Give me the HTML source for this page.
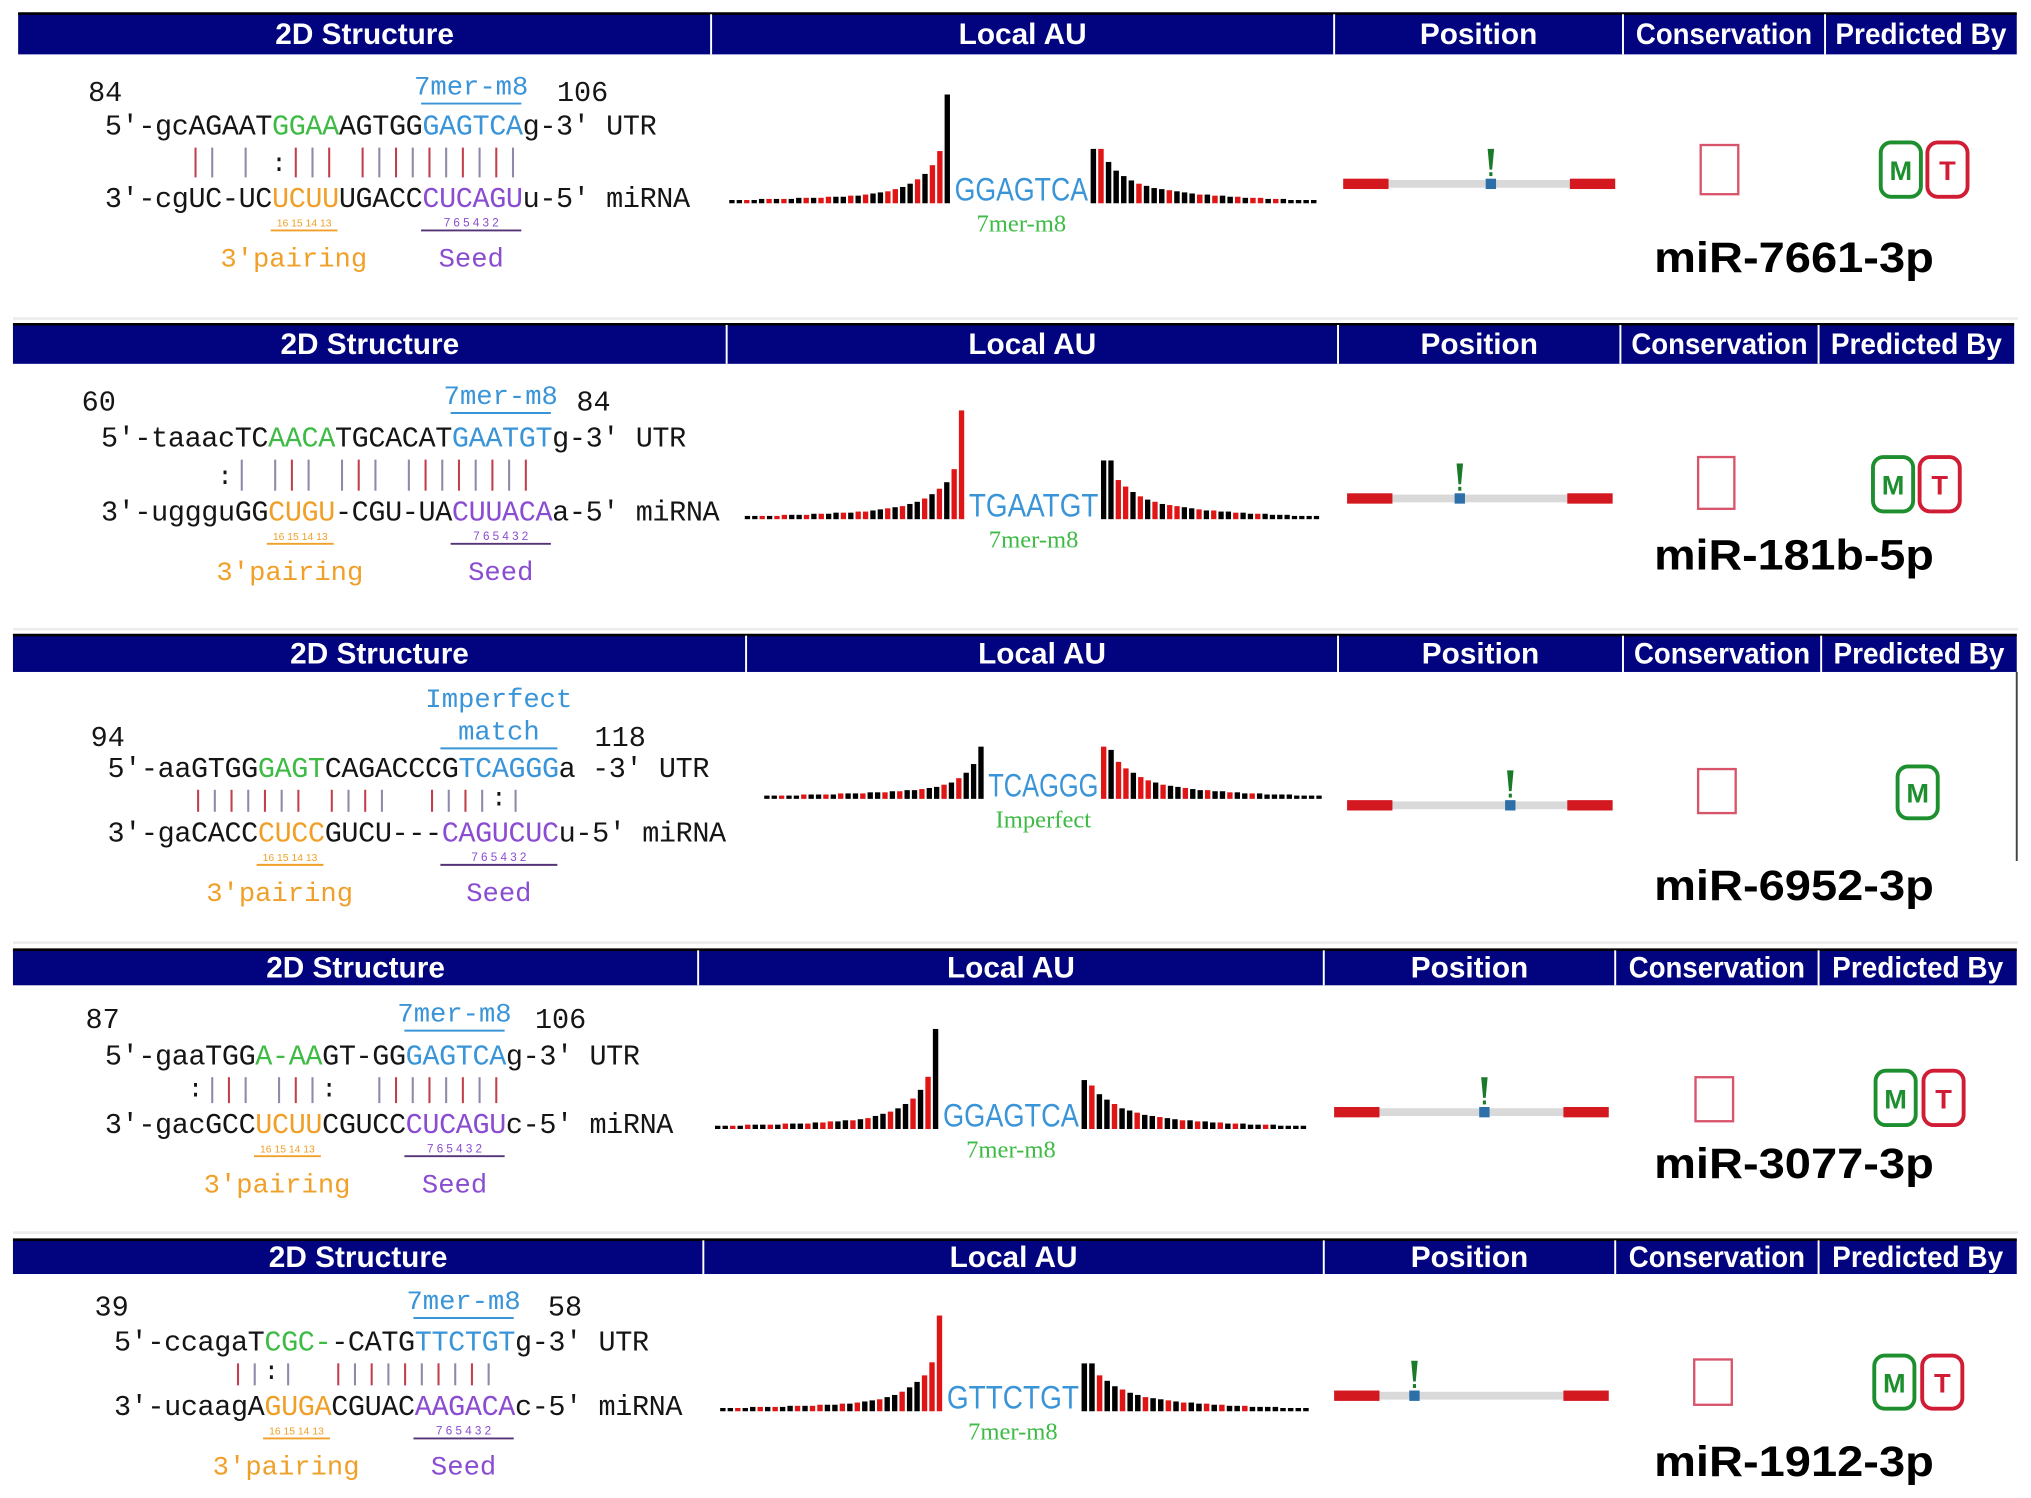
<!DOCTYPE html>
<html><head><meta charset="utf-8"><style>
html,body{margin:0;padding:0;background:#fff;}
svg{display:block;}
</style></head><body>
<svg id="fig" xmlns="http://www.w3.org/2000/svg" width="2031" height="1498" viewBox="0 0 1568 1157" preserveAspectRatio="none">
<rect x="0" y="0" width="1568" height="1157" fill="#fff"/>
</svg>
<script>
// ---- data arrays (Local AU scores, 0-100) ----
const au1Left=[3,3,3,3,4,4,4,4,4,5,5,5,5,6,6,6,7,7,8,9,10,11,13,15,18,22,27,35,48,100];
const au1Right=[50,50,38,30,25,21,18,16,14,13,12,11,10,9,8,8,7,7,6,6,5,5,5,4,4,4,3,3,3,3];
const au1LeftCol="kkrkkrkrkkrkrrkkrkrkkrrkkrkrrk";
const au1RightCol="krkkkkrkkkrkkkrkrkkrkrrkrkkkkk";
const au2Left=[3,3,3,3,3,4,4,4,4,5,5,5,6,6,6,7,7,8,9,10,11,12,14,16,19,23,28,34,46,100];
const au2Right=[54,54,36,30,25,21,18,16,14,13,12,11,10,9,8,8,7,7,6,6,5,5,5,4,4,4,3,3,3,3];
const au2LeftCol="kkrkrrkkrkrkkrkrrkkrkrkkrkrkrr";
const au2RightCol="kkrrkrkrkrrkkrkrkkrkkrkkkkkkkk";
const au3Left=[3,3,3,3,3,4,4,4,4,4,5,5,5,5,6,6,6,7,7,8,8,9,10,11,13,15,19,24,32,48];
const au3Right=[48,45,34,28,24,20,17,15,13,12,11,10,9,8,8,7,7,6,6,5,5,5,4,4,4,4,3,3,3,3];
const au3LeftCol="kkrkkrkkrkrkkrkkrkrkkrkkrkrkkk";
const au3RightCol="rkrrkrrkrkkrkkrkkrkkrkkkkkkkkk";
const au4Left=[3,3,3,3,4,4,4,4,4,5,5,5,5,6,6,7,7,8,8,9,10,12,14,16,19,23,28,36,48,92];
const au4Right=[45,40,32,27,23,19,17,15,13,12,11,10,9,8,8,7,7,6,6,5,5,5,4,4,4,4,3,3,3,3];
const au4LeftCol="kkrkrkkrkrkkrkrrkkrkrkkrkkrkrk";
const au4RightCol="krkkrkkrkkrkkrkrkkrkrkkkrkkkkk";
const au5Left=[3,3,3,3,4,4,4,4,4,5,5,5,5,6,6,6,7,7,8,9,10,11,13,15,18,22,27,33,45,88];
const au5Right=[44,44,33,28,23,20,17,15,13,12,11,10,9,8,8,7,7,6,6,5,5,5,4,4,4,4,3,3,3,3];
const au5LeftCol="kkrkkrkrkkrkrrkkrkrkkrkkrkkrrr";
const au5RightCol="kkrkkrkkrkkrkrkkrkrkkrkkkkkkkk";

const headerLabels=["2D Structure","Local AU","Position","Conservation","Predicted By"];
const C={g:"#3dbb45",b:"#3a94d8",o:"#f0a028",p:"#8a4cd0",k:"#151515"};

const panels=[
 {hy:10,hh:32,div:[14,549,1030,1253,1409,1557],x0:80,utrY:104,miY:160,nL:"84",nLx:68,nR:"106",nRx:430,numY:78,
  utr:[["5'-gcAGAAT","k"],["GGAA","g"],["AGTGG","k"],["GAGTCA","b"],["g-3' UTR","k"]],
  mi:[["3'-cgUC-UC","k"],["UCUU","o"],["UGACC","k"],["CUCAGU","p"],["u-5' miRNA","k"]],
  pairs:"     || | :||| ||||||||||",oS:10,pS:19,pL:6,motifLab:["7mer-m8"],
  cx0:563,cx1:1018,t0:737,t1:840,cb:157,mtxt:"GGAGTCA",sub:"7mer-m8",py:142,px0:1037,px1:1247,pb:1151,
  cons:[1313,112,29,38],m:[1452,110],t:[1488,110],bh:42,name:"miR-7661-3p",nameY:210,
  L:au1Left,R:au1Right,LC:au1LeftCol,RC:au1RightCol},
 {hy:250,hh:31,div:[10,561,1033,1251,1404,1555],x0:77,utrY:345,miY:402,nL:"60",nLx:63,nR:"84",nRx:445,numY:317,
  utr:[["5'-taaacTC","k"],["AACA","g"],["TGCACAT","k"],["GAATGT","b"],["g-3' UTR","k"]],
  mi:[["3'-uggguGG","k"],["CUGU","o"],["-CGU-UA","k"],["CUUACA","p"],["a-5' miRNA","k"]],
  pairs:"       :| ||| ||| ||||||||",oS:10,pS:21,pL:6,motifLab:["7mer-m8"],
  cx0:575,cx1:1020,t0:748,t1:848,cb:401,mtxt:"TGAATGT",sub:"7mer-m8",py:385,px0:1040,px1:1245,pb:1127,
  cons:[1311,353,28,40],m:[1446,353],t:[1482,353],bh:42,name:"miR-181b-5p",nameY:440,
  L:au2Left,R:au2Right,LC:au2LeftCol,RC:au2RightCol},
 {hy:490,hh:29,div:[10,576,1033,1253,1406,1557],x0:82,utrY:600,miY:650,nL:"94",nLx:70,nR:"118",nRx:459,numY:576,
  utr:[["5'-aaGTGG","k"],["GAGT","g"],["CAGACCCG","k"],["TCAGGG","b"],["a -3' UTR","k"]],
  mi:[["3'-gaCACC","k"],["CUCC","o"],["GUCU---","k"],["CAGUCUC","p"],["u-5' miRNA","k"]],
  pairs:"     ||||||| ||||  ||||:|",oS:9,pS:20,pL:7,motifLab:["Imperfect","match"],
  cx0:590,cx1:1022,t0:763,t1:848,cb:617,mtxt:"TCAGGG",sub:"Imperfect",py:622,px0:1040,px1:1245,pb:1166,
  cons:[1311,594,29,34],m:[1465,592],t:null,bh:40,name:"miR-6952-3p",nameY:695,
  L:au3Left,R:au3Right,LC:au3LeftCol,RC:au3RightCol},
 {hy:733,hh:28,div:[10,539,1022,1247,1404,1557],x0:80,utrY:822,miY:875,nL:"87",nLx:66,nR:"106",nRx:413,numY:794,
  utr:[["5'-gaaTGG","k"],["A-AA","g"],["GT-GG","k"],["GAGTCA","b"],["g-3' UTR","k"]],
  mi:[["3'-gacGCC","k"],["UCUU","o"],["CGUCC","k"],["CUCAGU","p"],["c-5' miRNA","k"]],
  pairs:"     :||| |||:  ||||||||",oS:9,pS:18,pL:6,motifLab:["7mer-m8"],
  cx0:552,cx1:1010,t0:728,t1:833,cb:872,mtxt:"GGAGTCA",sub:"7mer-m8",py:859,px0:1030,px1:1242,pb:1146,
  cons:[1309,832,29,34],m:[1448,827],t:[1485,827],bh:42,name:"miR-3077-3p",nameY:910,
  L:au4Left,R:au4Right,LC:au4LeftCol,RC:au4RightCol},
 {hy:957,hh:27,div:[10,543,1022,1247,1404,1557],x0:87,utrY:1043,miY:1093,nL:"39",nLx:73,nR:"58",nRx:423,numY:1016,
  utr:[["5'-ccagaT","k"],["CGC-","g"],["-CATG","k"],["TTCTGT","b"],["g-3' UTR","k"]],
  mi:[["3'-ucaagA","k"],["GUGA","o"],["CGUAC","k"],["AAGACA","p"],["c-5' miRNA","k"]],
  pairs:"       ||:|  ||||||||||",oS:9,pS:18,pL:6,motifLab:["7mer-m8"],
  cx0:556,cx1:1012,t0:731,t1:833,cb:1090,mtxt:"GTTCTGT",sub:"7mer-m8",py:1078,px0:1030,px1:1242,pb:1092,
  cons:[1308,1050,29,35],m:[1447,1047],t:[1484,1047],bh:41,name:"miR-1912-3p",nameY:1140,
  L:au5Left,R:au5Right,LC:au5LeftCol,RC:au5RightCol}
];

const svg=document.getElementById('fig');
const NS="http://www.w3.org/2000/svg";
function mk(tag,attrs,name,parent){
  const el=document.createElementNS(NS,tag);
  for(const k in attrs) el.setAttribute(k,attrs[k]);
  
  
  (parent||svg).appendChild(el);
  return el;
}
const CW=12.9;
const MONO='"Liberation Mono", monospace';
const SANS='"Liberation Sans", Arial, sans-serif';
const SERIF='"Liberation Serif", serif';
function auY(v){return v*0.84;}

function seqLine(p,segs,y,name){
  let full="";segs.forEach(s=>full+=s[0]);
  const xs=[];for(let i=0;i<full.length;i++)xs.push((p.x0+i*CW+1).toFixed(1));
  const t=mk('text',{x:xs.join(' '),y:y,'font-family':MONO,'font-size':22,fill:C.k},name);
  segs.forEach(s=>{const ts=mk('tspan',{fill:C[s[1]]},name+'-segment',t);ts.textContent=s[0];});
}

panels.forEach((p,pi)=>{
  const g=mk('g',{},'target-panel-'+(pi+1));
  mk('rect',{x:p.div[0],y:p.hy,width:p.div[5]-p.div[0],height:p.hh,fill:'#02037e'},'header-bar',g);
  mk('line',{x1:p.div[0],x2:p.div[5],y1:p.hy+0.5,y2:p.hy+0.5,stroke:'#000',"stroke-width":2},'header-top-edge',g);
  for(let i=0;i<5;i++){
    if(i>0) mk('line',{x1:p.div[i],x2:p.div[i],y1:p.hy+1,y2:p.hy+p.hh,stroke:'#fff',"stroke-width":1.5},'header-divider',g);
    const tx=mk('text',{x:(p.div[i]+p.div[i+1])/2,y:p.hy+p.hh/2+8,'text-anchor':'middle','font-family':SANS,'font-weight':'bold','font-size':23,fill:'#fff'},'header-'+headerLabels[i].toLowerCase().replace(/ /g,'-'),g);
    if(i>=3) { tx.setAttribute('textLength', i===3?136:132); tx.setAttribute('lengthAdjust','spacingAndGlyphs'); }
    tx.textContent=headerLabels[i];
  }
  const n1=mk('text',{x:p.nLx,y:p.numY,'font-family':MONO,'font-size':22,fill:C.k},'start-position',g);n1.textContent=p.nL;
  const n2=mk('text',{x:p.nRx,y:p.numY,'font-family':MONO,'font-size':22,fill:C.k},'end-position',g);n2.textContent=p.nR;
  const bx0=p.x0+p.pS*CW, bx1=bx0+p.pL*CW, bcx=(bx0+bx1)/2;
  p.motifLab.forEach((l,li)=>{
    const yy=p.numY-5-(p.motifLab.length-1-li)*25;
    const t=mk('text',{x:bcx,y:yy,'text-anchor':'middle','font-family':MONO,'font-size':21,fill:C.b},'site-type-label',g);t.textContent=l;
  });
  mk('line',{x1:bx0,x2:bx1,y1:p.numY+2,y2:p.numY+2,stroke:C.b,"stroke-width":1.5},'site-type-underline',g);
  seqLine(p,p.utr,p.utrY,'utr-sequence');
  seqLine(p,p.mi,p.miY,'mirna-sequence');
  for(let i=0;i<p.pairs.length;i++){
    const ch=p.pairs[i]; const cx=p.x0+(i+0.5)*CW;
    const col=(i%2)?'#c2404e':'#8f88a8';
    if(ch==='|') mk('line',{x1:cx,x2:cx,y1:p.utrY+10,y2:p.miY-23,stroke:col,"stroke-width":1.6},'base-pair',g);
    else if(ch===':'){const t=mk('text',{x:cx,y:p.miY-28,'text-anchor':'middle','font-family':MONO,'font-size':20,fill:C.k},'wobble-pair',g);t.textContent=':';}
  }
  const ox0=p.x0+p.oS*CW, ox1=ox0+4*CW;
  const a=mk('text',{x:(ox0+ox1)/2,y:p.miY+15,'text-anchor':'middle','font-family':SANS,'font-size':8,fill:C.o},'pairing-index',g);a.textContent="16 15 14 13";
  mk('line',{x1:ox0,x2:ox1,y1:p.miY+18,y2:p.miY+18,stroke:C.o,"stroke-width":1.5},'pairing-underline',g);
  const sx0=p.x0+p.pS*CW, sx1=sx0+p.pL*CW;
  const b=mk('text',{x:(sx0+sx1)/2,y:p.miY+15,'text-anchor':'middle','font-family':SANS,'font-size':9,fill:C.p},'seed-index',g);b.textContent="7 6 5 4 3 2";
  mk('line',{x1:sx0,x2:sx1,y1:p.miY+18,y2:p.miY+18,stroke:'#553377',"stroke-width":1.5},'seed-underline',g);
  const c=mk('text',{x:(ox0+ox1)/2-8,y:p.miY+46,'text-anchor':'middle','font-family':MONO,'font-size':21,fill:C.o},'three-prime-pairing-label',g);c.textContent="3'pairing";
  const d=mk('text',{x:(sx0+sx1)/2,y:p.miY+46,'text-anchor':'middle','font-family':MONO,'font-size':21,fill:C.p},'seed-label',g);d.textContent="Seed";
  const nL=p.L.length, pitchL=(p.t0-2-p.cx0)/nL;
  p.L.forEach((v,i)=>{
    const h=auY(v);
    mk('rect',{x:p.cx0+i*pitchL,y:p.cb-h,width:pitchL*0.72,height:h,fill:p.LC[i]==='r'?'#e01515':'#000'},'au-bar-upstream',g);
  });
  const nR=p.R.length, pitchR=(p.cx1-p.t1-2)/nR;
  p.R.forEach((v,i)=>{
    const h=auY(v);
    mk('rect',{x:p.t1+2+i*pitchR,y:p.cb-h,width:pitchR*0.72,height:h,fill:p.RC[i]==='r'?'#e01515':'#000'},'au-bar-downstream',g);
  });
  const mt=mk('text',{x:p.t0,y:p.cb-2,'font-family':SANS,'font-size':25,fill:C.b,textLength:p.t1-p.t0,lengthAdjust:'spacingAndGlyphs'},'au-site-sequence',g);mt.textContent=p.mtxt;
  const st=mk('text',{x:(p.t0+p.t1)/2,y:p.cb+22,'text-anchor':'middle','font-family':SERIF,'font-size':19,fill:C.g},'au-site-type',g);st.textContent=p.sub;
  mk('rect',{x:p.px0,y:p.py-3,width:p.px1-p.px0,height:6,fill:'#d9d9d9'},'utr-track',g);
  mk('rect',{x:p.px0,y:p.py-4,width:35,height:8,fill:'#d41820'},'utr-start-block',g);
  mk('rect',{x:p.px1-35,y:p.py-4,width:35,height:8,fill:'#d41820'},'utr-end-block',g);
  mk('rect',{x:p.pb-4,y:p.py-4,width:8,height:8,fill:'#2d6fa8'},'site-position-marker',g);
  mk('path',{d:`M${p.pb-2.5} ${p.py-27} L${p.pb+2.5} ${p.py-27} L${p.pb+1} ${p.py-11} L${p.pb-1} ${p.py-11} Z`,fill:'#1a7a2a'},'site-flag',g);
  mk('rect',{x:p.pb-1.2,y:p.py-9,width:2.4,height:3,fill:'#1a7a2a'},'site-flag-dot',g);
  mk('rect',{x:p.cons[0],y:p.cons[1],width:p.cons[2],height:p.cons[3],fill:'none',stroke:'#d8546a',"stroke-width":1.8},'conservation-box',g);
  function badge(pos,letter,col,nm){
    mk('rect',{x:pos[0],y:pos[1],width:31,height:p.bh,rx:8,fill:'#fff',stroke:col,"stroke-width":3},nm+'-badge',g);
    const t=mk('text',{x:pos[0]+15.5,y:pos[1]+p.bh/2+8,'text-anchor':'middle','font-family':SANS,'font-weight':'bold','font-size':21,fill:col},nm+'-letter',g);t.textContent=letter;
  }
  badge(p.m,'M','#1e8f2e','miranda');
  if(p.t) badge(p.t,'T','#d01c34','targetscan');
  const nm=mk('text',{x:1277,y:p.nameY,'font-family':SANS,'font-weight':'bold','font-size':33,fill:'#000',textLength:216,lengthAdjust:'spacingAndGlyphs'},'mirna-name',g);nm.textContent=p.name;
});
mk('line',{x1:1557,x2:1557,y1:519,y2:665,stroke:'#444',"stroke-width":1.5},'panel-border-right');
[246,486,728,952].forEach(y=>mk('line',{x1:10,x2:1558,y1:y,y2:y,stroke:'#ececec',"stroke-width":2},'panel-separator'));
</script>
</body></html>
